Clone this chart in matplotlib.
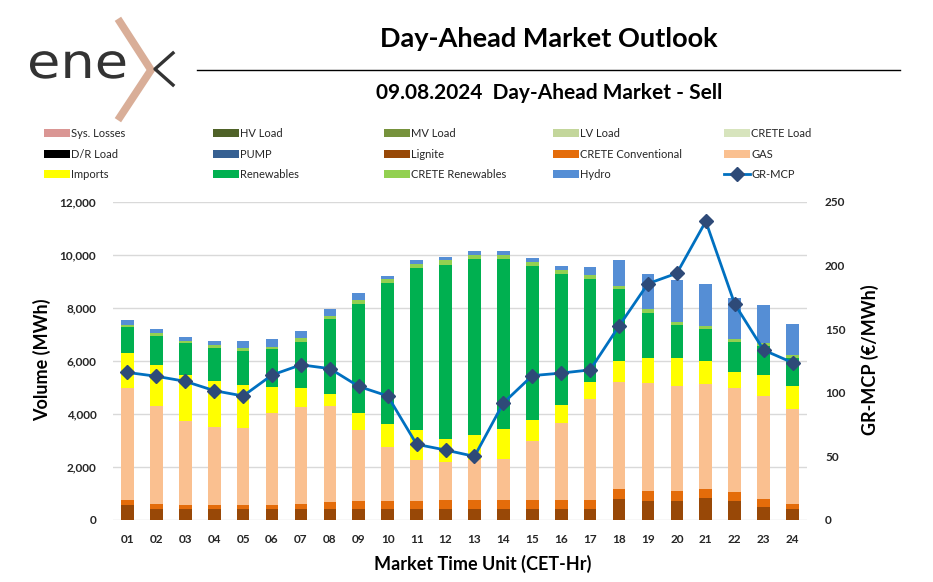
import matplotlib
matplotlib.use("Agg")
import matplotlib.pyplot as plt
import numpy as np
from matplotlib.textpath import TextPath
from matplotlib.patches import PathPatch
from matplotlib.font_manager import FontProperties
from matplotlib.transforms import Affine2D

hours = ["%02d" % h for h in range(1, 25)]

# series in stacking order (MWh); the load-type series are empty for the Sell side
sys_losses = [0] * 24
hv_load = [0] * 24
mv_load = [0] * 24
lv_load = [0] * 24
crete_load = [0] * 24
dr_load = [0] * 24
pump = [0] * 24
lignite = [566, 415, 415, 403, 403, 415, 415, 415, 415, 415, 415, 415,
           415, 415, 415, 415, 415, 793, 717, 717, 818, 717, 503, 415]
crete_conv = [201, 189, 164, 150, 150, 151, 189, 252, 302, 315, 315, 340,
              352, 352, 340, 340, 340, 377, 390, 390, 365, 327, 277, 201]
gas = [4202, 3711, 3170, 2969, 2932, 3460, 3673, 3635, 2680, 2038, 1534, 1447,
       1497, 1523, 2214, 2918, 3824, 4051, 4076, 3963, 3962, 3950, 3887, 3586]
imports = [1334, 1535, 1723, 1724, 1610, 1006, 692, 453, 629, 855, 1133, 868,
           931, 1157, 805, 654, 629, 767, 943, 1031, 855, 591, 805, 843]
renewables = [968, 1094, 1195, 1258, 1296, 1409, 1761, 2818, 4138, 5309, 6113, 6566,
              6643, 6403, 5812, 4970, 3900, 2730, 1686, 1271, 1208, 1145, 1107, 1081]
crete_ren = [89, 101, 88, 88, 88, 101, 126, 126, 151, 151, 151, 164,
             176, 164, 151, 151, 138, 126, 138, 113, 113, 113, 88, 101]
hydro = [200, 163, 164, 163, 264, 289, 277, 264, 252, 138, 139, 126,
         125, 125, 138, 125, 290, 968, 1347, 1573, 1586, 1548, 1447, 1183]
gr_mcp = [116, 113, 109, 101.7, 97.5, 114, 122, 119, 105, 97.5, 59.5, 55,
          50, 92, 113.5, 115.5, 118, 152.5, 185.8, 194, 234.8, 169.8, 133.6, 123.7]

series = [
    ("Sys. Losses", sys_losses, "#DA9694"),
    ("HV Load", hv_load, "#4F6228"),
    ("MV Load", mv_load, "#76923C"),
    ("LV Load", lv_load, "#C3D69B"),
    ("CRETE Load", crete_load, "#D7E4BD"),
    ("D/R Load", dr_load, "#000000"),
    ("PUMP", pump, "#366092"),
    ("Lignite", lignite, "#984807"),
    ("CRETE Conventional", crete_conv, "#E46C0A"),
    ("GAS", gas, "#FAC090"),
    ("Imports", imports, "#FFFF00"),
    ("Renewables", renewables, "#00B050"),
    ("CRETE Renewables", crete_ren, "#92D050"),
    ("Hydro", hydro, "#558ED5"),
]

FONT = "Lato"
TXT = "#262626"
plt.rcParams["font.family"] = [FONT, "DejaVu Sans"]

fig = plt.figure(figsize=(9.33, 5.82), dpi=100)
ax = fig.add_axes([113 / 933, 1 - 520 / 582, 694 / 933, 318 / 582])
x = np.arange(len(hours))
bottom = np.zeros(len(hours))
handles = []
for name, vals, col in series:
    v = np.array(vals, dtype=float)
    b = ax.bar(x, v, 0.44, bottom=bottom, color=col, label=name, zorder=2)
    handles.append(b)
    bottom += v

ax.set_xlim(-0.5, len(hours) - 0.5)
ax.set_ylim(0, 12000)
ax.set_yticks(range(0, 12001, 2000))
ax.set_yticklabels(["{:,}".format(t) for t in range(0, 12001, 2000)])
ax.set_xticks(x)
ax.set_xticklabels(hours)
ax.grid(axis="y", color="#D9D9D9", linewidth=1, zorder=0)
ax.set_axisbelow(True)
for s in ax.spines.values():
    s.set_visible(False)
ax.tick_params(length=0, labelsize=8.5, colors=TXT)
ax.tick_params(axis="y", pad=12)
ax.tick_params(axis="x", pad=10)
for t in ax.get_xticklabels() + ax.get_yticklabels():
    t.set_fontweight("bold")

ax2 = ax.twinx()
line, = ax2.plot(x, gr_mcp, color="#0070C0", linewidth=2, marker="D",
                 markersize=7, markerfacecolor="#2E4A78", markeredgecolor="#2E4A78",
                 label="GR-MCP", zorder=5)
ax2.set_ylim(0, 250)
ax2.set_yticks(range(0, 251, 50))
for s in ax2.spines.values():
    s.set_visible(False)
ax2.tick_params(length=0, labelsize=8.5, colors=TXT, pad=13)
for t in ax2.get_yticklabels():
    t.set_fontweight("bold")
handles.append(line)

# axis titles
fig.text(42 / 933, 1 - 360 / 582, "Volume (MWh)", rotation=90, ha="center",
         va="center", fontsize=13, fontweight="bold", color="black")
fig.text(870 / 933, 1 - 360 / 582, "GR-MCP (€/MWh)", rotation=90, ha="center",
         va="center", fontsize=13, fontweight="bold", color="black")
fig.text(483 / 933, 1 - 564 / 582, "Market Time Unit (CET-Hr)", ha="center",
         va="center", fontsize=13, fontweight="bold", color="black")

# header
fig.text(549 / 933, 1 - 39 / 582, "Day-Ahead Market Outlook", ha="center",
         va="center", fontsize=19.5, fontweight="bold", color="black")
fig.add_artist(plt.Line2D([197 / 933, 900 / 933], [1 - 70 / 582] * 2,
                          color="black", linewidth=1))
fig.text(549 / 933, 1 - 93 / 582, "09.08.2024  Day-Ahead Market - Sell", ha="center",
         va="center", fontsize=15, fontweight="bold", color="black")

# logo: "ene" drawn as a path so it can be stretched a little wider
tp = TextPath((0, 0), "ene", size=48, prop=FontProperties(family="DejaVu Sans"))
logo_tf = Affine2D().scale(1.13, 1.0).translate(27, 582 - 78)
fig.add_artist(PathPatch(logo_tf.transform_path(tp), facecolor="#333333",
                         edgecolor="none", transform=None))
fig.add_artist(plt.Line2D([120 / 933, 151 / 933, 120 / 933],
                          [1 - 22 / 582, 1 - 70 / 582, 1 - 117 / 582],
                          color="#D9AE98", linewidth=5.5, solid_joinstyle="miter"))
fig.add_artist(plt.Line2D([173 / 933, 155 / 933, 173 / 933],
                          [1 - 53 / 582, 1 - 69 / 582, 1 - 85 / 582],
                          color="#333333", linewidth=2.4))

# legend: one column per block of three entries, read row-wise
col_x = [44, 213, 384, 553, 724]
for c, cx in enumerate(col_x):
    idx = [r * 5 + c for r in range(3)]
    leg = fig.legend([handles[i] for i in idx], [handles[i].get_label() for i in idx],
                     loc="upper left", bbox_to_anchor=(cx / 933, 1 - 128 / 582),
                     frameon=False, fontsize=8, handlelength=2.3, handleheight=0.7,
                     handletextpad=0.15, labelspacing=0.86, borderaxespad=0,
                     borderpad=0)
    for t in leg.get_texts():
        t.set_color(TXT)

fig.savefig("out.png", dpi=100)
